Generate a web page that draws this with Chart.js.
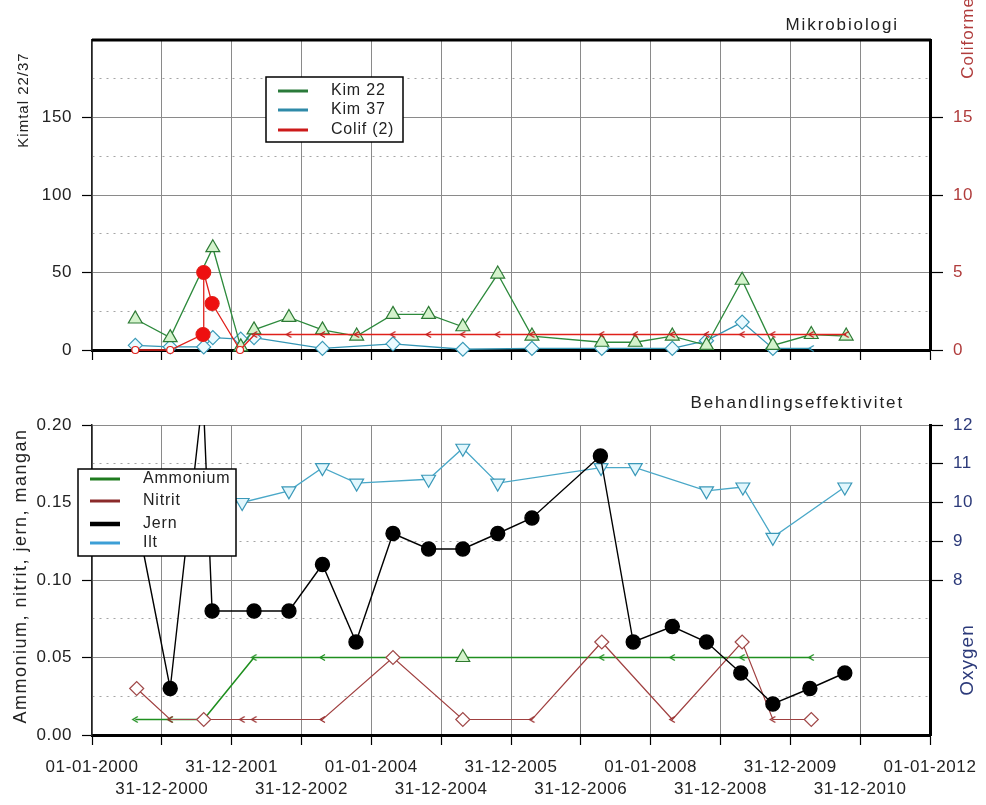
<!DOCTYPE html>
<html>
<head>
<meta charset="utf-8">
<title>Mikrobiologi / Behandlingseffektivitet</title>
<script src="https://cdn.jsdelivr.net/npm/chart.js@4.4.1/dist/chart.umd.min.js"></script>
<style>
  body { margin: 0; background: #fff; }
  canvas { position: absolute; left: 0; }
  #topChart { top: 0; }
  #botChart { top: 375px; }
</style>
</head>
<body>
<canvas id="topChart" width="986" height="375"></canvas>
<canvas id="botChart" width="986" height="430"></canvas>
<script>
// -------------------- DATA --------------------
// x values are decimal years
const tickLabels = ["01-01-2000", "31-12-2000", "31-12-2001", "31-12-2002", "01-01-2004", "31-12-2004",
  "31-12-2005", "31-12-2006", "01-01-2008", "31-12-2008", "31-12-2009", "31-12-2010", "01-01-2012"];

// Mikrobiologi
const kim22Dates = [2000.62, 2001.12, 2001.73, 2002.13, 2002.32, 2002.82, 2003.30, 2003.79, 2004.31, 2004.82, 2005.31,
  2005.81, 2006.30, 2007.30, 2007.78, 2008.31, 2008.80, 2009.31, 2009.75, 2010.30, 2010.80];
const kim22 = [20, 8, 66, 2, 13, 21, 13, 9, 23, 23, 15, 49, 9, 5, 5, 9, 3, 45, 3, 10, 9];

const kim37Dates = [2000.62, 2001.12, 2001.60, 2001.73, 2002.13, 2002.32, 2003.30, 2004.31, 2005.31, 2006.30,
  2007.30, 2008.31, 2008.80, 2009.31, 2009.75, 2010.30];
const kim37 = [3, 2, 2, 8, 7, 8, 1, 4, 0.5, 1, 1, 1, 6, 18, 1, 1];
const kim37Below = [false, false, false, false, false, false, false, false, false, false, false, false, false, false, false, true];

const colifDates = [2000.62, 2001.12, 2001.59, 2001.60, 2001.72, 2002.12, 2002.33, 2002.82, 2003.30, 2003.79, 2004.31,
  2004.82, 2005.31, 2005.81, 2006.30, 2007.30, 2007.78, 2008.31, 2008.80, 2009.31, 2009.75, 2010.30, 2010.80];
const colif = [0, 0, 1, 5, 3, 0, 1, 1, 1, 1, 1, 1, 1, 1, 1, 1, 1, 1, 1, 1, 1, 1, 1];
const colifBelow = [false, false, false, false, false, false, true, true, true, true, true, true, true, true, true,
  true, true, true, true, true, true, true, true];

// Behandlingseffektivitet
const ammoniumDates = [2000.62, 2001.12, 2001.60, 2002.32, 2003.30, 2005.31, 2007.30, 2008.31, 2009.31, 2010.30];
const ammonium = [0.01, 0.01, 0.01, 0.05, 0.05, 0.05, 0.05, 0.05, 0.05, 0.05];
const ammoniumBelow = [true, true, true, true, true, false, true, true, true, true];

const nitritDates = [2000.64, 2001.12, 2001.60, 2002.15, 2002.32, 2003.30, 2004.31, 2005.31, 2006.30, 2007.30,
  2008.31, 2009.31, 2009.75, 2010.30];
const nitrit = [0.03, 0.01, 0.01, 0.01, 0.01, 0.01, 0.05, 0.01, 0.01, 0.06, 0.01, 0.06, 0.01, 0.01];
const nitritBelow = [false, true, false, true, true, true, false, false, true, false, true, false, true, false];

const jernDates = [2000.64, 2001.12, 2001.59, 2001.72, 2002.32, 2002.82, 2003.30, 2003.78, 2004.31, 2004.82, 2005.31,
  2005.81, 2006.30, 2007.28, 2007.75, 2008.31, 2008.80, 2009.29, 2009.75, 2010.28, 2010.78];
const jern = [0.14, 0.03, 0.22, 0.08, 0.08, 0.08, 0.11, 0.06, 0.13, 0.12, 0.12, 0.13, 0.14, 0.18, 0.06, 0.07, 0.06,
  0.04, 0.02, 0.03, 0.04];

const iltDates = [2001.60, 2002.15, 2002.82, 2003.30, 2003.79, 2004.82, 2005.31, 2005.81, 2007.29, 2007.78, 2008.80,
  2009.32, 2009.75, 2010.78];
const ilt = [10.2, 10.0, 10.3, 10.9, 10.5, 10.6, 11.4, 10.5, 10.9, 10.9, 10.3, 10.4, 9.1, 10.4];

// -------------------- HELPERS --------------------
const FONT = "'Liberation Sans', Arial, sans-serif";
const HIDDEN = "rgba(0,0,0,0)";

function pts(xs, ys) {
  return xs.map((x, i) => ({ x: x, y: ys[i] }));
}

// small "<" symbol used for values below detection limit
function lessThanMark(color) {
  const c = document.createElement("canvas");
  c.width = 9; c.height = 9;
  const g = c.getContext("2d");
  g.strokeStyle = color;
  g.lineWidth = 1.3;
  g.beginPath();
  g.moveTo(7, 1.5); g.lineTo(2, 4.5); g.lineTo(7, 7.5);
  g.stroke();
  return c;
}

const spacingPlugin = {
  id: "spacing",
  beforeDraw(chart) { chart.ctx.letterSpacing = "0.6px"; }
};

const textPlugin = {
  id: "texts",
  afterDraw(chart, args, opts) {
    const g = chart.ctx;
    (opts.items || []).forEach(t => {
      g.save();
      g.letterSpacing = t.spacing || "1px";
      g.font = t.font;
      g.fillStyle = t.color;
      g.textAlign = t.align || "center";
      g.textBaseline = "middle";
      g.translate(t.x, t.y);
      if (t.rot) g.rotate(t.rot);
      g.fillText(t.text, 0, 0);
      g.restore();
    });
    if (opts.frameTop) {
      const a = chart.chartArea;
      g.save();
      g.strokeStyle = "#000";
      g.lineWidth = 3;
      g.beginPath();
      g.moveTo(a.left, a.top); g.lineTo(a.right + 1, a.top);
      g.stroke();
      g.restore();
    }
  }
};

const boxLegendPlugin = {
  id: "boxLegend",
  afterDraw(chart, args, opts) {
    const g = chart.ctx;
    const b = opts.box;
    g.save();
    g.fillStyle = "#fff";
    g.fillRect(b.x, b.y, b.w, b.h);
    g.strokeStyle = "#000";
    g.lineWidth = 1.5;
    g.strokeRect(b.x, b.y, b.w, b.h);
    g.letterSpacing = "0.8px";
    g.font = opts.font;
    g.textBaseline = "middle";
    g.textAlign = "left";
    opts.items.forEach((it, i) => {
      const y = opts.rows[i];
      g.strokeStyle = it.color;
      g.lineWidth = it.width || 3;
      g.beginPath();
      g.moveTo(opts.lineX[0], y); g.lineTo(opts.lineX[1], y);
      g.stroke();
      g.fillStyle = "#222";
      g.fillText(it.label, opts.textX, y);
    });
    g.restore();
  }
};

function xScale(showLabels, height) {
  return {
    type: "linear", min: 2000, max: 2012,
    afterFit: s => { s.height = height; },
    grid: { color: "#8a8a8a", lineWidth: 1, tickLength: 10, tickColor: "#000", tickWidth: 1.2 },
    border: { color: "#000", width: 3 },
    ticks: {
      display: showLabels, stepSize: 1, autoSkip: false, maxRotation: 0, padding: 11,
      color: "#222", font: { family: FONT, size: 17, lineHeight: 1.3 },
      callback: (v, i) => i % 2 === 0 ? [tickLabels[i], ""] : ["", tickLabels[i]]
    }
  };
}

function leftScale(max, step, fmt) {
  return {
    position: "left", min: 0, max: max,
    afterFit: s => { s.width = 92; },
    ticks: {
      stepSize: step, padding: 10, color: "#222", font: { family: FONT, size: 17 },
      callback: (v, i) => i % 2 === 0 ? fmt(v) : ""
    },
    grid: {
      color: c => c.index % 2 ? "#a5a5a5" : "#8a8a8a",
      lineWidth: 1,
      tickLength: 10,
      tickWidth: 1.2,
      tickColor: c => c.index % 2 ? HIDDEN : "#000"
    },
    border: { color: "#222", width: 1.5, dash: c => c.index % 2 ? [2, 5] : [] }
  };
}

// -------------------- TOP CHART: MIKROBIOLOGI --------------------
const topLeft = leftScale(200, 25, v => String(v));
topLeft.ticks.callback = (v, i) => (i % 2 === 0 && v < 200) ? String(v) : "";
topLeft.grid.tickColor = c => (c.index % 2 || (c.tick && c.tick.value >= 200)) ? HIDDEN : "#000";

new Chart(document.getElementById("topChart"), {
  type: "line",
  data: {
    datasets: [
      {
        label: "Colif (2)", data: pts(colifDates, colif), yAxisID: "y2", order: 0,
        borderColor: "#e0201a", borderWidth: 1.3, clip: false,
        pointStyle: c => colifBelow[c.dataIndex] ? lessThanMark("#c02020") : "circle",
        pointRadius: c => colif[c.dataIndex] === 0 ? 3.5 : 7,
        pointBackgroundColor: c => colif[c.dataIndex] === 0 ? "#fff" : "#ee1010",
        pointBorderColor: "#e0201a", pointBorderWidth: 1.2
      },
      {
        label: "Kim 22", data: pts(kim22Dates, kim22), yAxisID: "y", order: 1,
        borderColor: "#2d8a3c", borderWidth: 1.3, clip: false,
        pointStyle: "triangle", pointRadius: 8,
        pointBackgroundColor: "#d4f3cc", pointBorderColor: "#2d7a35", pointBorderWidth: 1.2
      },
      {
        label: "Kim 37", data: pts(kim37Dates, kim37), yAxisID: "y", order: 2,
        borderColor: "#3596b5", borderWidth: 1.3, clip: false,
        pointStyle: c => kim37Below[c.dataIndex] ? lessThanMark("#3596b5") : "rectRot",
        pointRadius: 7,
        pointBackgroundColor: "#eafaff", pointBorderColor: "#3a9ab8", pointBorderWidth: 1.2
      }
    ]
  },
  options: {
    responsive: false,
    animation: false,
    layout: { padding: { top: 40 } },
    scales: {
      x: xScale(false, 25),
      y: topLeft,
      y2: {
        position: "right", min: 0, max: 20,
        afterFit: s => { s.width = 56; },
        ticks: {
          stepSize: 5, padding: 10, color: "#b03c3c", font: { family: FONT, size: 17 },
          callback: v => v < 20 ? String(v) : ""
        },
        grid: {
          drawOnChartArea: false, tickLength: 13, tickWidth: 1.2,
          tickColor: c => (c.tick && c.tick.value >= 20) ? HIDDEN : "#000"
        },
        border: { color: "#000", width: 3 }
      }
    },
    plugins: {
      legend: { display: false },
      tooltip: { enabled: false },
      texts: {
        frameTop: true,
        items: [
          { text: "Mikrobiologi", x: 899, y: 25, align: "right", font: "17px " + FONT, color: "#222", spacing: "1.9px" },
          { text: "Kimtal 22/37", x: 24, y: 100, rot: -Math.PI / 2, font: "15px " + FONT, color: "#222" },
          { text: "Coliforme", x: 968, y: 38, rot: -Math.PI / 2, font: "17px " + FONT, color: "#b03c3c" }
        ]
      },
      boxLegend: {
        box: { x: 266, y: 77, w: 137, h: 65 },
        lineX: [278, 308], textX: 331, rows: [91, 110, 130],
        font: "16px " + FONT,
        items: [
          { label: "Kim 22", color: "#2a7a3a" },
          { label: "Kim 37", color: "#2f8aa8" },
          { label: "Colif (2)", color: "#cc1a1a" }
        ]
      }
    }
  },
  plugins: [spacingPlugin, textPlugin, boxLegendPlugin]
});

// -------------------- BOTTOM CHART: BEHANDLINGSEFFEKTIVITET --------------------
const botLeft = leftScale(0.2, 0.025, v => v.toFixed(2));

new Chart(document.getElementById("botChart"), {
  type: "line",
  data: {
    datasets: [
      {
        label: "Jern", data: pts(jernDates, jern), yAxisID: "y", order: 0,
        borderColor: "#000", borderWidth: 1.4,
        clip: { left: 10, right: 10, top: 0, bottom: 10 },
        pointStyle: "circle", pointRadius: 7,
        pointBackgroundColor: "#000", pointBorderColor: "#000"
      },
      {
        label: "Nitrit", data: pts(nitritDates, nitrit), yAxisID: "y", order: 1,
        borderColor: "#a04040", borderWidth: 1.2, clip: false,
        pointStyle: c => nitritBelow[c.dataIndex] ? lessThanMark("#9a3030") : "rectRot",
        pointRadius: 7,
        pointBackgroundColor: "#fff", pointBorderColor: "#a04848", pointBorderWidth: 1.2
      },
      {
        label: "Ammonium", data: pts(ammoniumDates, ammonium), yAxisID: "y", order: 2,
        borderColor: "#1f8f1f", borderWidth: 1.6, clip: false,
        pointStyle: c => ammoniumBelow[c.dataIndex] ? lessThanMark("#1f8f1f") : "triangle",
        pointRadius: 8,
        pointBackgroundColor: "#d4f3cc", pointBorderColor: "#2e7a2e", pointBorderWidth: 1.2
      },
      {
        label: "Ilt", data: pts(iltDates, ilt), yAxisID: "y2", order: 3,
        borderColor: "#4aa8c8", borderWidth: 1.3, clip: false,
        pointStyle: "triangle", pointRotation: 180, pointRadius: 8,
        pointBackgroundColor: "#e2f7fd", pointBorderColor: "#3a98b8", pointBorderWidth: 1.2
      }
    ]
  },
  options: {
    responsive: false,
    animation: false,
    layout: { padding: { top: 50 } },
    scales: {
      x: xScale(true, 70),
      y: botLeft,
      y2: {
        position: "right", min: 4, max: 12,
        afterFit: s => { s.width = 56; },
        ticks: {
          stepSize: 1, padding: 10, color: "#2c3a7a", font: { family: FONT, size: 17 },
          callback: v => v >= 8 ? String(v) : ""
        },
        grid: {
          drawOnChartArea: false, tickLength: 13, tickWidth: 1.2,
          tickColor: c => (c.tick && c.tick.value >= 8) ? "#000" : HIDDEN
        },
        border: { color: "#000", width: 3 }
      }
    },
    plugins: {
      legend: { display: false },
      tooltip: { enabled: false },
      texts: {
        items: [
          { text: "Behandlingseffektivitet", x: 904, y: 28, align: "right", font: "17px " + FONT, color: "#222", spacing: "1.9px" },
          { text: "Ammonium, nitrit, jern, mangan", x: 21, y: 201, rot: -Math.PI / 2, font: "18px " + FONT, color: "#222", spacing: "1.5px" },
          { text: "Oxygen", x: 968, y: 285, rot: -Math.PI / 2, font: "19px " + FONT, color: "#2c3a7a" }
        ]
      },
      boxLegend: {
        box: { x: 78, y: 94, w: 158, h: 87 },
        lineX: [90, 120], textX: 143, rows: [104, 126, 149, 168],
        font: "16px " + FONT,
        items: [
          { label: "Ammonium", color: "#1e7b1e" },
          { label: "Nitrit", color: "#8b2a2a" },
          { label: "Jern", color: "#000", width: 4.5 },
          { label: "Ilt", color: "#3c9fd6" }
        ]
      }
    }
  },
  plugins: [spacingPlugin, textPlugin, boxLegendPlugin]
});
</script>
</body>
</html>
